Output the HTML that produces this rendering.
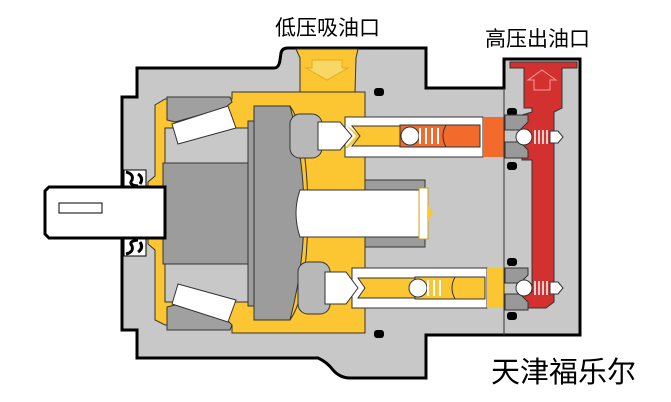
<!DOCTYPE html>
<html><head><meta charset="utf-8"><style>
html,body{margin:0;padding:0;background:#fff;width:671px;height:402px;overflow:hidden}
svg{display:block}
text{font-family:"Liberation Sans","Noto Sans CJK SC",sans-serif}
</style></head><body>
<svg width="671" height="402" viewBox="0 0 671 402" xmlns="http://www.w3.org/2000/svg">
<rect width="671" height="402" fill="#fff"/>
<path d="M137,68 L274,68 Q279,68 280,60 L281,53 Q282,48 288,48 L426,48 L426,88 L504,88 L504,59 L580,59 L580,335 L426,335 L426,378 L350,378 Q340,378 333,370 Q327,362 318,358 L137,358 L137,330 L122,330 L122,97 L137,97 Z" fill="#c8c8c8" stroke="#000" stroke-width="3"/>
<path d="M296,49 L358,49 L356,58 L355,92 L300,92 L300,58 Z" fill="#fbc631" stroke="#333" stroke-width="1"/>
<path d="M312,60 L342,60 L342,68 L348,68 L327,80 L306,68 L312,68 Z" fill="#f7d864" stroke="#e8a820" stroke-width="1"/>
<path d="M232,92 L365,92 L365,333 L232,333 L232,325 L165,325 L155,320 L155,250 L148,244 L148,182 L155,176 L155,105 L165,99 L232,99 Z" fill="#fbc631" stroke="#333" stroke-width="1"/>
<rect x="124" y="170" width="22" height="18" fill="#fff" stroke="#000"/>
<path d="M126,172 q8,2 6,8 q-4,5 6,6 M138,174 q6,4 2,10" stroke="#000" stroke-width="3" fill="none"/>
<rect x="124" y="238" width="22" height="18" fill="#fff" stroke="#000"/>
<path d="M126,254 q8,-2 6,-8 q-4,-5 6,-6 M138,252 q6,-4 2,-10" stroke="#000" stroke-width="3" fill="none"/>
<rect x="165" y="128" width="83" height="40" fill="#c8c8c8" stroke="#333"/>
<rect x="165" y="262" width="83" height="40" fill="#c8c8c8" stroke="#333"/>
<path d="M167,97 L230,97 L232,102 L225,108 L175,122 L167,120 Z" fill="#a0a0a0" stroke="#333"/>
<path d="M167,330 L230,330 L232,325 L225,318 L175,305 L167,307 Z" fill="#a0a0a0" stroke="#333"/>
<path d="M172,124 L228,106 L236,128 L178,144 Z" fill="#fff" stroke="#333"/>
<path d="M172,304 L228,322 L236,300 L178,284 Z" fill="#fff" stroke="#333"/>
<rect x="163" y="163" width="86" height="101" fill="#9c9c9c" stroke="#333"/>
<path d="M49,187 L165,187 L165,238 L49,238 L45,234 L45,191 Z" fill="#fff" stroke="#000" stroke-width="3"/>
<rect x="59" y="203" width="43" height="10" fill="#fff" stroke="#000"/>
<rect x="248" y="121" width="8" height="185" fill="#9c9c9c" stroke="#333"/>
<path d="M254,106 L290,106 Q318,213 290,320 L254,320 Z" fill="#9c9c9c" stroke="#333"/>
<path d="M290,106 Q300,120 304,150 Q312,213 304,276 Q300,306 290,320" fill="none" stroke="#333"/>
<path d="M300,190 L425,190 L425,237 L300,237 Q292,213 300,190 Z" fill="#fff" stroke="#333"/>
<rect x="365" y="180" width="60" height="10" fill="#9c9c9c" stroke="#333"/>
<rect x="365" y="237" width="60" height="10" fill="#9c9c9c" stroke="#333"/>
<rect x="419" y="188" width="9" height="51" fill="#fff" stroke="#c9a020"/>
<path d="M428,205 L433,213 L428,221 Z" fill="#fbc631"/>
<rect x="345" y="117" width="138" height="40" fill="#fff" stroke="#333"/>
<rect x="290" y="114" width="32" height="44" rx="10" fill="#b8b8b8" stroke="#333"/>
<path d="M318,122 L340,122 L352,136 L340,150 L318,150 Z" fill="#fff" stroke="#333"/>
<path d="M345,124 L356,136 L345,148 L348,148 L360,136 Z" fill="#fbc631"/>
<path d="M352,126 L400,126 L400,146 L352,146 L360,136 Z" fill="#fbc631" stroke="#333"/>
<rect x="400" y="125" width="80" height="22" fill="#f26a2c" stroke="#333"/>
<circle cx="410" cy="136" r="9" fill="#fff" stroke="#333"/>
<path d="M420,128 v16 M426,128 v16 M432,128 v16 M438,128 v16" stroke="#fff" stroke-width="2"/>
<path d="M446,125 L480,125 L480,147 L446,147 Q440,136 446,125 Z" fill="#f26a2c" stroke="#333"/>
<rect x="483" y="117" width="22" height="40" fill="#f26a2c"/>
<rect x="352" y="268" width="135" height="40" fill="#fff" stroke="#333"/>
<rect x="298" y="262" width="32" height="52" rx="10" fill="#b8b8b8" stroke="#333"/>
<path d="M325,272 L346,272 L358,288 L346,304 L325,304 Z" fill="#fff" stroke="#333"/>
<path d="M358,278 L415,278 L415,298 L358,298 L365,288 Z" fill="#fbc631" stroke="#333"/>
<rect x="415" y="277" width="70" height="22" fill="#fbc631" stroke="#333"/>
<circle cx="418" cy="288" r="9" fill="#fff" stroke="#333"/>
<path d="M428,280 v16 M434,280 v16 M440,280 v16" stroke="#fff" stroke-width="2"/>
<path d="M455,277 L485,277 L485,299 L455,299 Q449,288 455,277 Z" fill="#fbc631" stroke="#333"/>
<rect x="487" y="268" width="18" height="40" fill="#fbc631"/>
<g fill="#000"><rect x="374" y="88" width="10" height="8" rx="3"/><rect x="374" y="330" width="10" height="8" rx="3"/>
<rect x="507" y="108" width="10" height="8" rx="3"/><rect x="507" y="162" width="10" height="8" rx="3"/>
<rect x="507" y="258" width="10" height="8" rx="3"/><rect x="507" y="312" width="10" height="8" rx="3"/></g>
<line x1="504" y1="88" x2="504" y2="335" stroke="#333"/>
<path d="M510,62 L577,62 L577,68 L562,68 L562,108 L554,112 L554,302 L546,308 L522,308 L522,292 L532,292 L532,160 L522,160 L522,115 L532,112 L532,108 L524,108 L524,68 L510,68 Z" fill="#d2312f" stroke="#333"/>
<path d="M534,90 L534,80 L528,80 L542,70 L556,80 L550,80 L550,90 Z" fill="none" stroke="#f59a9a"/>
<path d="M505,115 L528,115 L528,122 L520,130 L505,130 Z" fill="#999" stroke="#333"/>
<path d="M505,158 L528,158 L528,150 L520,142 L505,142 Z" fill="#999" stroke="#333"/>
<path d="M505,268 L528,268 L528,275 L520,283 L505,283 Z" fill="#999" stroke="#333"/>
<path d="M505,310 L528,310 L528,302 L520,294 L505,294 Z" fill="#999" stroke="#333"/>
<circle cx="524" cy="137" r="8" fill="#fff" stroke="#333"/>
<circle cx="524" cy="288" r="8" fill="#fff" stroke="#333"/>
<path d="M535,130 v14 M539,130 v14 M543,130 v14 M547,130 v14 M535,281 v14 M539,281 v14 M543,281 v14 M547,281 v14" stroke="#fff" stroke-width="1.5"/>
<path d="M550,131 L558,131 L563,137 L558,143 L550,143 Z M550,282 L558,282 L563,288 L558,294 L550,294 Z" fill="#fff" stroke="#333"/>
<text x="275" y="35" font-size="21" fill="#000">低压吸油口</text>
<text x="485" y="46" font-size="21" fill="#000">高压出油口</text>
<text x="491" y="382" font-size="29" fill="#000">天津福乐尔</text>
</svg>
</body></html>
